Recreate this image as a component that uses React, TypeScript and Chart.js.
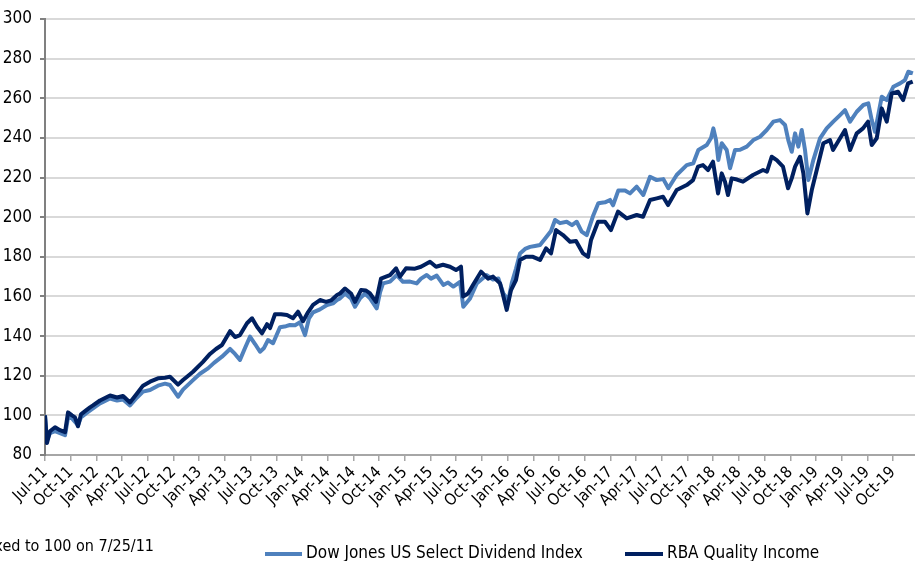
import React, { useEffect, useRef } from "react";
import { Chart, registerables } from "chart.js";

Chart.register(...registerables);

// Quarterly tick labels (one every 3 months from 7/25/11)
const xLabels = [
  "Jul-11", "Oct-11", "Jan-12", "Apr-12", "Jul-12", "Oct-12", "Jan-13", "Apr-13",
  "Jul-13", "Oct-13", "Jan-14", "Apr-14", "Jul-14", "Oct-14", "Jan-15", "Apr-15",
  "Jul-15", "Oct-15", "Jan-16", "Apr-16", "Jul-16", "Oct-16", "Jan-17", "Apr-17",
  "Jul-17", "Oct-17", "Jan-18", "Apr-18", "Jul-18", "Oct-18", "Jan-19", "Apr-19",
  "Jul-19", "Oct-19",
];

const yTicks = [80, 100, 120, 140, 160, 180, 200, 220, 240, 260, 280, 300];

// Months elapsed since 7/25/11 for each reading (Dow Jones US Select Dividend Index)
const djMonths = [
  0, 0.23, 0.58, 1.17, 1.75, 2.34, 2.69, 3.15, 3.85, 4.2, 4.79, 5.6, 6.42, 7.59, 8.41, 9.11,
  9.92, 10.74, 11.44, 12.26, 13.19, 14.01, 14.59, 15.53, 16.11, 17.28, 18.09, 19.03, 19.73,
  20.66, 21.6, 22.18, 22.76, 23.35, 23.93, 24.52, 25.1, 25.57, 26.03, 26.62, 27.43, 28.13,
  28.6, 29.19, 29.77, 30.35, 30.82, 31.29, 32.1, 32.92, 33.62, 34.09, 34.44, 35.02, 35.72,
  36.19, 36.77, 37.36, 37.94, 38.72, 39.11, 39.46, 40.28, 41.06, 41.79, 42.61, 43.39, 43.89,
  44.56, 45.06, 45.73, 46.5, 47.05, 47.67, 48.45, 48.83, 49.62, 50.4, 51.56, 52.3, 52.92,
  53.5, 54.09, 54.48, 54.98, 55.45, 56.04, 56.62, 57.2, 57.79, 58.57, 59.07, 59.54, 60.12,
  60.9, 61.52, 62.07, 62.65, 63.24, 64.01, 64.59, 65.37, 65.96, 66.31, 66.93, 67.71, 68.29,
  69.07, 69.84, 70.63, 71.41, 72.18, 72.77, 73.74, 74.91, 75.68, 76.27, 77.25, 77.75, 78.02,
  78.33, 78.6, 79.0, 79.58, 79.97, 80.55, 81.14, 81.92, 82.69, 83.47, 84.25, 85.02, 85.8,
  86.39, 86.77, 87.17, 87.56, 87.94, 88.34, 88.72, 89.11, 89.69, 90.47, 91.25, 92.02, 92.81,
  93.39, 93.98, 94.76, 95.53, 96.11, 96.51, 96.89, 97.68, 98.26, 99.03, 99.81, 100.39,
  100.78, 101.31,
];
const djValues = [
  100, 87.5, 91, 92, 91, 90, 99, 98.5, 95, 99, 101, 103.5, 106, 108.5, 107.5, 108,
  105, 109, 112, 112.8, 115, 116, 115.3, 109.4, 113, 117.8, 121, 123.7, 126.5,
  129.6, 133.5, 131, 128, 134, 139.7, 136, 132.1, 134, 138, 136.4, 144.5, 145,
  145.6, 145.5, 147, 140.5, 149, 152, 153.5, 155.7, 156.5, 158.2, 159, 161.5, 159,
  154.8, 159, 161.5, 159, 154, 162, 166.6, 167.5, 170.8, 167.4, 167.5, 166.6, 169,
  170.8, 169, 170.5, 165.8, 167, 165, 167.4, 154.8, 159, 166.6, 170.8, 168.5, 169.1,
  161.5, 158.2, 166.6, 174, 181.7, 184, 185, 185.5, 186, 190.2, 193, 198.6, 197,
  197.7, 196, 197.7, 192.7, 191, 201, 207, 207.5, 208.7, 206, 213.5, 213.5, 212,
  215.4, 211.2, 220.4, 218.7, 219.2, 214.6, 221.3, 226.3, 227.2, 233.9, 236.4, 240, 244.8,
  239, 228.8, 237.3, 233.9, 224.7, 233.9, 234, 235.6, 238.9, 240.6, 244, 248.2, 249,
  246.5, 238.9, 233, 242.3, 235.6, 244, 233.9, 218.7, 228.8, 239.8, 244.8, 248.2, 251.5,
  254, 248.2, 253.2, 256.6, 257.4, 249, 243.1, 260.8, 259.1, 265.8, 267.5, 269.2,
  273.4, 272.6,
];

// Months elapsed since 7/25/11 for each reading (RBA Quality Income)
const rbaMonths = [
  0, 0.23, 0.58, 1.17, 1.75, 2.34, 2.69, 3.15, 3.5, 3.85, 4.2, 4.79, 5.25, 5.6, 6.42, 7.59,
  8.41, 9.11, 9.92, 10.74, 11.44, 12.26, 13.19, 14.01, 14.59, 15.53, 16.11, 16.58, 17.28,
  18.44, 19.26, 19.96, 20.66, 21.6, 22.18, 22.76, 23.58, 24.17, 24.75, 25.33, 25.92, 26.27,
  26.85, 27.55, 28.25, 28.95, 29.54, 30.12, 30.7, 31.29, 32.1, 32.8, 33.39, 34.09, 34.44,
  35.02, 35.72, 36.19, 36.89, 37.47, 37.94, 38.64, 39.22, 39.81, 40.28, 40.98, 41.44, 42.14,
  43.19, 43.89, 44.94, 45.65, 46.46, 47.28, 47.98, 48.56, 48.8, 49.38, 49.96, 50.9, 51.72,
  52.3, 53.12, 53.47, 53.9, 54.4, 54.98, 55.45, 56.15, 56.97, 57.79, 58.49, 59.07, 59.65,
  60.47, 61.29, 61.99, 62.81, 63.39, 63.74, 64.56, 65.37, 66.07, 66.89, 67.91, 69.07, 69.81,
  70.63, 71.41, 72.15, 72.73, 73.74, 74.91, 75.65, 76.23, 76.81, 77.4, 77.98, 78.57, 79.0,
  79.38, 79.73, 80.16, 80.78, 81.48, 82.65, 83.82, 84.28, 84.83, 85.42, 86.15, 86.74, 87.17,
  87.56, 88.14, 88.53, 89.0, 89.51, 90.09, 90.86, 91.64, 91.99, 92.81, 93.39, 93.98, 94.76,
  95.49, 96.08, 96.51, 97.09, 97.68, 98.26, 98.84, 99.58, 100.17, 100.75, 101.29,
];
const rbaValues = [
  100, 86, 92, 94, 92.5, 91.5, 101.5, 100, 99, 94.5, 100.5, 102.5, 104, 105, 107.5, 110,
  109, 109.8, 106.5, 111, 115, 117, 118.7, 119, 119.5, 115.5, 117.8, 119.5, 122,
  127, 131, 133.5, 135.5, 142.5, 139.5, 140.5, 146.5, 149, 144.7, 141.4, 146, 144,
  151, 151, 150.6, 149, 152.3, 147.5, 152, 155.7, 158.2, 157.3, 158, 160.7, 161.5,
  164, 161.5, 157.3, 163.2, 163, 161.5, 157.3, 169, 170, 170.8, 174.2, 170, 174.2,
  174, 175, 177.5, 175, 176, 175, 173.3, 175, 160, 161.5, 165.8, 172.5, 169,
  170, 166.6, 160.7, 153.2, 163.2, 168.3, 178.4, 180, 180, 178.4, 184.3, 181.7, 193.5,
  191, 187.6, 188, 181.7, 180, 188.5, 197.7, 197.7, 193.5, 202.8, 199.4, 201.1, 200.2,
  208.7, 209.5, 210.3, 206.1, 213.7, 216.2, 218.7, 225.5, 226.3, 223.8, 228, 212, 222.1,
  217.9, 211.2, 219.6, 219, 217.9, 221.3, 223.8, 223, 230.5, 228.8, 225.5, 214.6, 219.6,
  225.5, 230.5, 222.1, 201.9, 213.7, 223.8, 237.3, 238.9, 233.9, 239.8, 244, 233.9, 242.3,
  244.8, 248.2, 236.4, 239.8, 254.9, 248.2, 262.5, 263.3, 259.1, 267.5, 268.4,
];

const seriesNames = ["Dow Jones US Select Dividend Index", "RBA Quality Income"];
const footnote = "Indexed to 100 on 7/25/11";

const DJ_COLOR = "#4F81BD";
const RBA_COLOR = "#002060";
const FONT = "'Liberation Sans Narrow', 'Arial Narrow', 'DejaVu Sans Condensed', sans-serif";

const bottomTextPlugin = {
  id: "bottomText",
  afterDraw(chart: any) {
    const ctx = chart.ctx;
    ctx.save();
    ctx.fillStyle = "#000";
    ctx.textBaseline = "alphabetic";
    // footnote (left part is cut off at the canvas edge, as in the source)
    ctx.font = `16px ${FONT}`;
    ctx.textAlign = "right";
    ctx.fillText(footnote, 154, 551);
    // legend
    ctx.font = `17px ${FONT}`;
    ctx.textAlign = "left";
    ctx.lineWidth = 4;
    ctx.strokeStyle = DJ_COLOR;
    ctx.beginPath();
    ctx.moveTo(265, 554);
    ctx.lineTo(302, 554);
    ctx.stroke();
    ctx.fillText(seriesNames[0], 306, 558);
    ctx.strokeStyle = RBA_COLOR;
    ctx.beginPath();
    ctx.moveTo(625, 554);
    ctx.lineTo(663, 554);
    ctx.stroke();
    ctx.fillText(seriesNames[1], 667, 558);
    ctx.restore();
  },
};

export default function App() {
  const ref = useRef<HTMLCanvasElement | null>(null);

  useEffect(() => {
    if (!ref.current) return;
    const chart = new Chart(ref.current, {
      type: "line",
      data: {
        datasets: [
          {
            label: seriesNames[0],
            data: djMonths.map((m, i) => ({ x: m, y: djValues[i] })),
            borderColor: DJ_COLOR,
            backgroundColor: DJ_COLOR,
            borderWidth: 4,
            pointRadius: 0,
            tension: 0,
            borderJoinStyle: "round",
            order: 2,
          },
          {
            label: seriesNames[1],
            data: rbaMonths.map((m, i) => ({ x: m, y: rbaValues[i] })),
            borderColor: RBA_COLOR,
            backgroundColor: RBA_COLOR,
            borderWidth: 4,
            pointRadius: 0,
            tension: 0,
            borderJoinStyle: "round",
            order: 1,
          },
        ],
      },
      options: {
        animation: false,
        responsive: true,
        maintainAspectRatio: false,
        layout: { padding: { top: 19, right: 0, left: 0, bottom: 0 } },
        plugins: { legend: { display: false }, tooltip: { enabled: false } },
        scales: {
          x: {
            type: "linear",
            min: 0,
            max: 101.56,
            afterBuildTicks: (s: any) => {
              s.ticks = xLabels.map((_, i) => ({ value: i * 3 }));
            },
            afterFit: (s: any) => {
              s.height = 106;
            },
            ticks: {
              autoSkip: false,
              maxRotation: 45,
              minRotation: 45,
              padding: 2,
              color: "#000",
              font: { family: FONT, size: 16 },
              callback: (_v: any, i: number) => xLabels[i],
            },
            grid: {
              drawOnChartArea: false,
              drawTicks: true,
              tickLength: 6,
              color: "#a6a6a6",
              lineWidth: 1.5,
            },
            border: { color: "#a6a6a6", width: 2 },
          },
          y: {
            min: 80,
            max: 300,
            afterBuildTicks: (s: any) => {
              s.ticks = yTicks.map((v) => ({ value: v }));
            },
            afterFit: (s: any) => {
              s.width = 45;
            },
            ticks: {
              padding: 8,
              color: "#000",
              font: { family: FONT, size: 17 },
            },
            grid: {
              color: "#d9d9d9",
              lineWidth: 2,
              drawTicks: true,
              tickLength: 5,
              tickColor: "#808080",
            },
            border: { color: "#808080", width: 2 },
          },
        },
      },
      plugins: [bottomTextPlugin],
    });
    return () => chart.destroy();
  }, []);

  return (
    <div style={{ position: "fixed", left: 0, top: 0, width: 915, height: 561, background: "#fff" }}>
      <canvas ref={ref} />
    </div>
  );
}
